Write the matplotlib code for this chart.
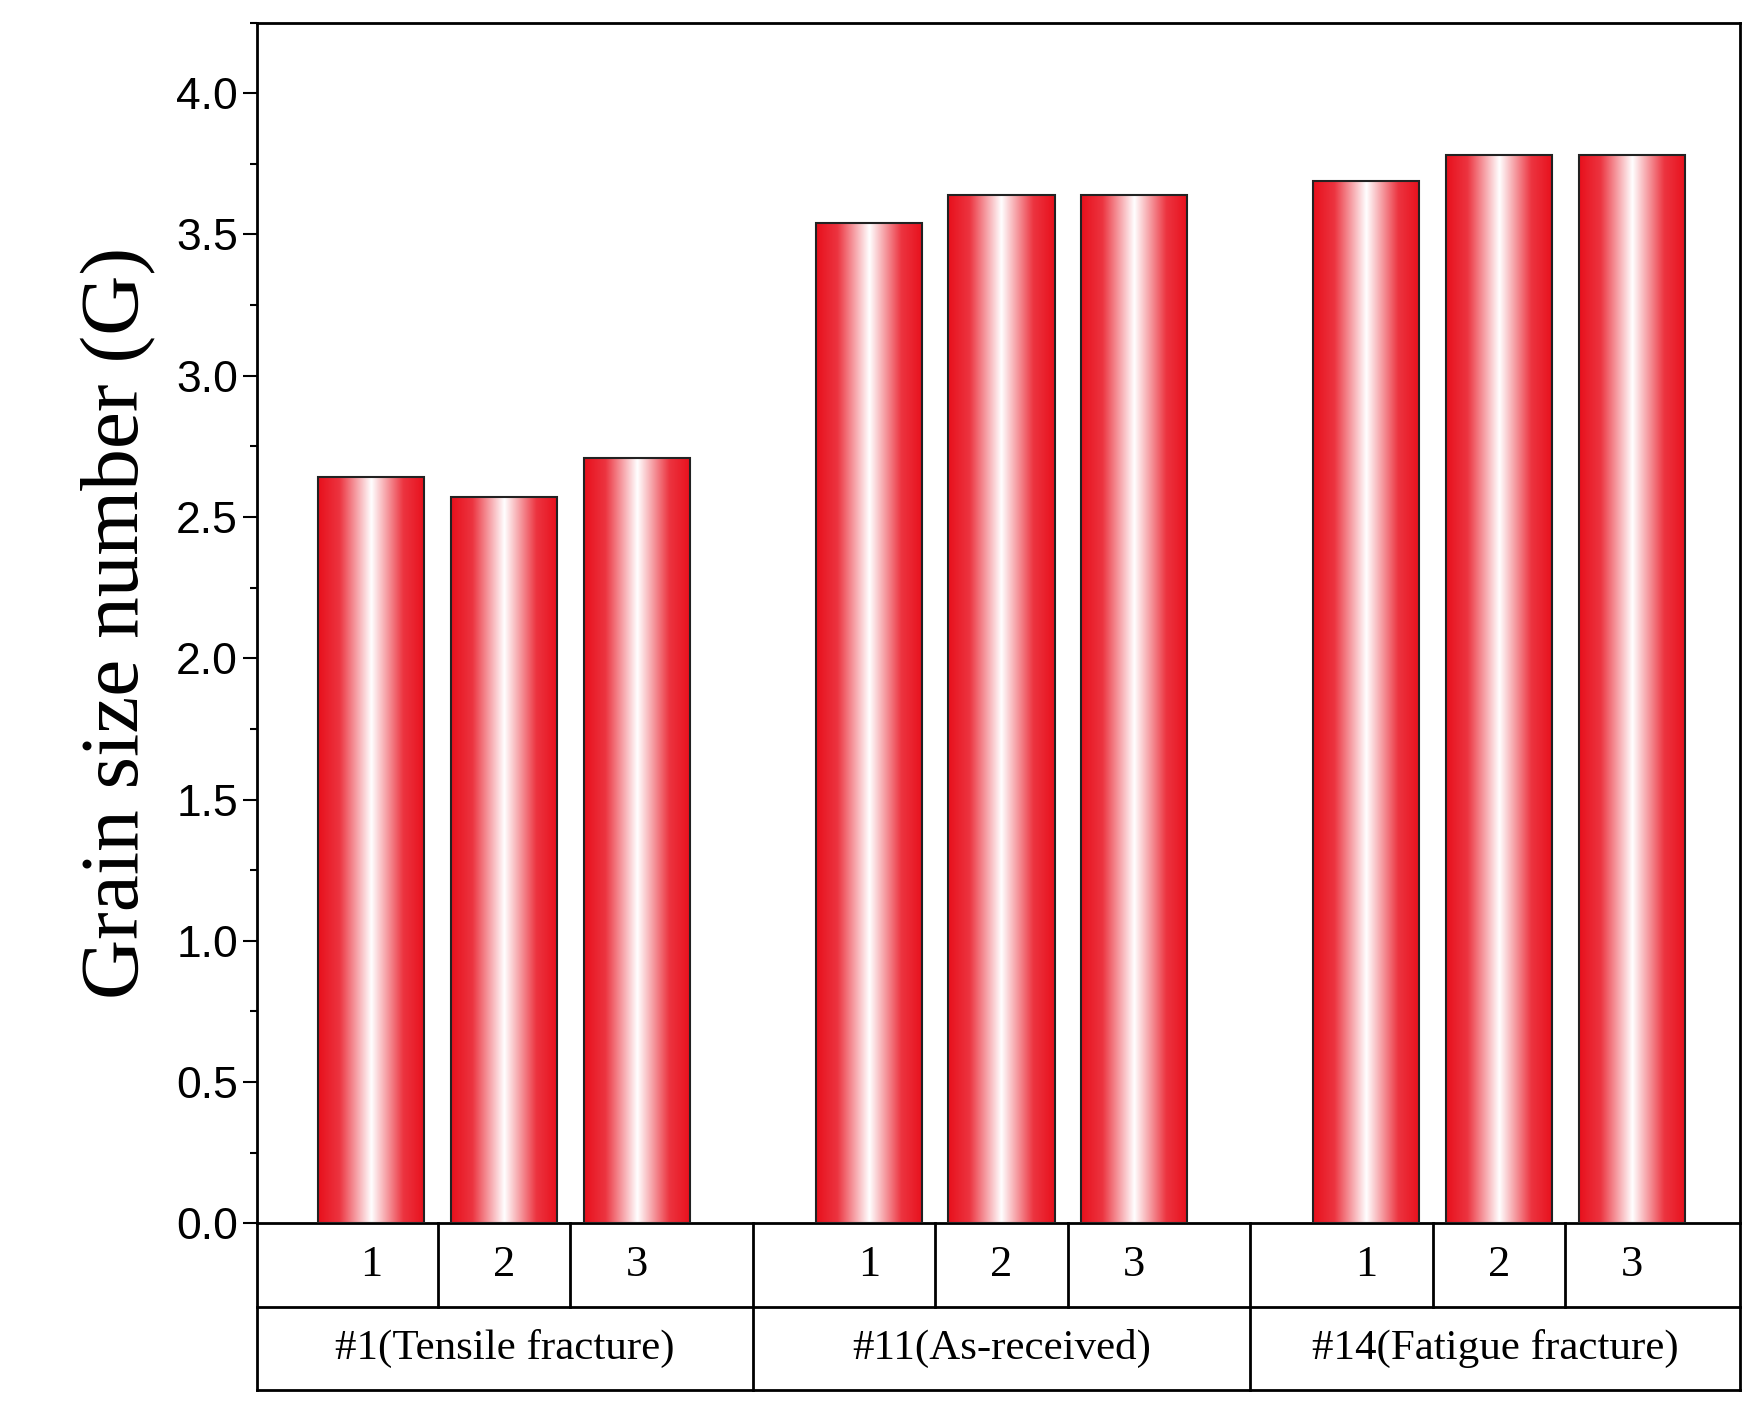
import numpy as np
import matplotlib.pyplot as plt
from matplotlib.colors import LinearSegmentedColormap
from matplotlib.ticker import MultipleLocator

groups = ["#1(Tensile fracture)", "#11(As-received)", "#14(Fatigue fracture)"]
samples = ["1", "2", "3"]
values = [2.64, 2.57, 2.71, 3.54, 3.64, 3.64, 3.69, 3.78, 3.78]
positions = [0, 1, 2, 3.75, 4.75, 5.75, 7.5, 8.5, 9.5]

fig = plt.figure(figsize=(17.58, 14.11), dpi=100)
ax = fig.add_axes([0.146, 0.133, 0.844, 0.851])

cmap = LinearSegmentedColormap.from_list(
    "rw", [(0, "#e8101c"), (0.2, "#ec3440"), (0.5, "#ffffff"), (0.8, "#ec3440"), (1, "#e8101c")])
grad = np.linspace(0, 1, 256).reshape(1, -1)
w = 0.8
for x, v in zip(positions, values):
    ax.imshow(grad, cmap=cmap, aspect="auto", extent=(x - w / 2, x + w / 2, 0, v), zorder=2)
    ax.add_patch(plt.Rectangle((x - w / 2, 0), w, v, fill=False, ec="#222222", lw=1.5, zorder=3))

ax.set_xlim(-0.864, 10.32)
ax.set_ylim(0, 4.25)
ax.set_xticks([])
ax.yaxis.set_major_locator(MultipleLocator(0.5))
ax.yaxis.set_minor_locator(MultipleLocator(0.25))
ax.tick_params(axis="y", which="major", length=10, width=1.5, labelsize=32, direction="out")
ax.tick_params(axis="y", which="minor", length=5, width=1.5)
for lab in ax.get_yticklabels():
    lab.set_family("Liberation Sans")
for s in ax.spines.values():
    s.set_linewidth(2)
ax.set_ylabel("Grain size number (G)", family="Liberation Serif", fontsize=60, labelpad=14)

# table below the axis
rh = 0.295
x0, x1 = -0.864, 10.32
kw = dict(color="black", lw=2, clip_on=False)
ax.plot([x0, x1], [-rh, -rh], **kw)
ax.plot([x0, x1], [-2 * rh, -2 * rh], **kw)
ax.plot([x0, x0], [0, -2 * rh], **kw)
ax.plot([x1, x1], [0, -2 * rh], **kw)
bounds = [x0, 2.875, 6.625, x1]
for b in bounds[1:-1]:
    ax.plot([b, b], [0, -2 * rh], **kw)
for i, x in enumerate(positions):
    ax.text(x, -rh / 2, samples[i % 3], ha="center", va="center", fontsize=32, family="Liberation Serif")
    if i % 3 != 2:
        m = (x + positions[i + 1]) / 2
        ax.plot([m, m], [0, -rh], **kw)
for g, name in enumerate(groups):
    ax.text((bounds[g] + bounds[g + 1]) / 2, -1.5 * rh, name, ha="center", va="center",
            fontsize=31, family="Liberation Serif")

fig.savefig("out.png")
